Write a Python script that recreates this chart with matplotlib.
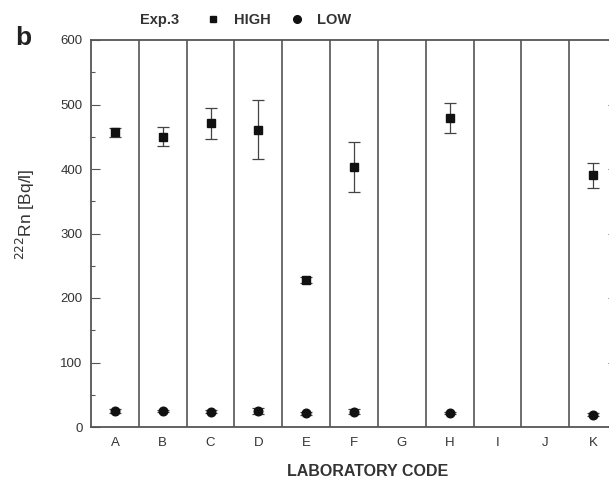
import matplotlib
matplotlib.use('Agg')
import matplotlib.pyplot as plt
from matplotlib.lines import Line2D
import numpy as np

plt.rcParams['font.family'] = ['Liberation Sans', 'DejaVu Sans']

# Data (Exp.3)
labs = ['A', 'B', 'C', 'D', 'E', 'F', 'G', 'H', 'I', 'J', 'K']
high_labs = ['A', 'B', 'C', 'D', 'E', 'F', 'H', 'K']
high_vals = [457, 450, 471, 461, 228, 403, 479, 390]
high_err = [7, 15, 24, 46, 5, 39, 23, 20]
low_labs = ['A', 'B', 'C', 'D', 'E', 'F', 'H', 'K']
low_vals = [25, 25, 24, 25, 21, 24, 22, 19]
low_err = [3, 2, 2, 5, 2, 4, 2, 2]

W, H = 609, 478
fig = plt.figure(figsize=(W / 100, H / 100), dpi=100)
# axes runs past the right edge of the figure, like the cropped original
ax = fig.add_axes([91 / W, 1 - 427 / H, (617 - 91) / W, (427 - 40) / H])

gray = '#555555'
txt = '#333333'

hx = [labs.index(l) for l in high_labs]
lx = [labs.index(l) for l in low_labs]

ax.errorbar(hx, high_vals, yerr=high_err, fmt='s', color='#111111', ms=5.5,
            ecolor='#444444', elinewidth=0.9, capsize=4.5, capthick=0.9, zorder=3)
ax.errorbar(lx, low_vals, yerr=low_err, fmt='o', color='#111111', ms=6.2,
            ecolor='#444444', elinewidth=0.9, capsize=4.5, capthick=0.9, zorder=3)

# separators between laboratories
for b in np.arange(0.5, len(labs) - 0.5, 1.0):
    ax.axvline(b, color=gray, lw=1.2, zorder=1)

ax.set_xlim(-0.5, len(labs) - 0.5)
ax.set_ylim(0, 600)
ax.set_xticks(range(len(labs)))
ax.set_xticklabels(labs)
ax.set_yticks(np.arange(0, 601, 100))
ax.set_yticks(np.arange(50, 600, 100), minor=True)

ax.tick_params(axis='x', length=0, labelsize=9.5, labelcolor=txt, pad=7)
ax.tick_params(axis='y', which='major', direction='in', length=6.5, width=0.8,
               color=gray, labelsize=9.5, labelcolor=txt, right=True, pad=6)
ax.tick_params(axis='y', which='minor', direction='in', length=3, width=0.8,
               color=gray, right=True)

for s in ax.spines.values():
    s.set_color(gray)
    s.set_linewidth(1.3)

ax.set_xlabel('LABORATORY CODE', fontsize=11.5, fontweight='bold', color=txt)
ax.xaxis.set_label_coords((368 - 91) / (617 - 91), -0.095)
ax.set_ylabel(r'$^{222}$Rn [Bq/l]', fontsize=12.5, color=txt)
ax.yaxis.set_label_coords((37 - 91) / (617 - 91), (427 - 214) / (427 - 40))

# panel letter and legend
fig.text(15 / W, 1 - 38 / H, 'b', fontsize=19, fontweight='bold', color='#222222',
         va='center', ha='left')
fig.text(140 / W, 1 - 20 / H, 'Exp.3', fontsize=10.5, fontweight='bold', color=txt,
         va='center', ha='left')
handles = [Line2D([], [], marker='s', ls='none', color='#111111', ms=5),
           Line2D([], [], marker='o', ls='none', color='#111111', ms=5.5)]
leg = fig.legend(handles, ['HIGH', 'LOW'], ncol=2, frameon=False,
                 loc='center left', bbox_to_anchor=(193 / W, 1 - 20 / H),
                 handlelength=1.0, handletextpad=0.9, columnspacing=1.3,
                 prop={'size': 10.5, 'weight': 'bold'})
for t in leg.get_texts():
    t.set_color(txt)

fig.savefig('out.png', dpi=100)
